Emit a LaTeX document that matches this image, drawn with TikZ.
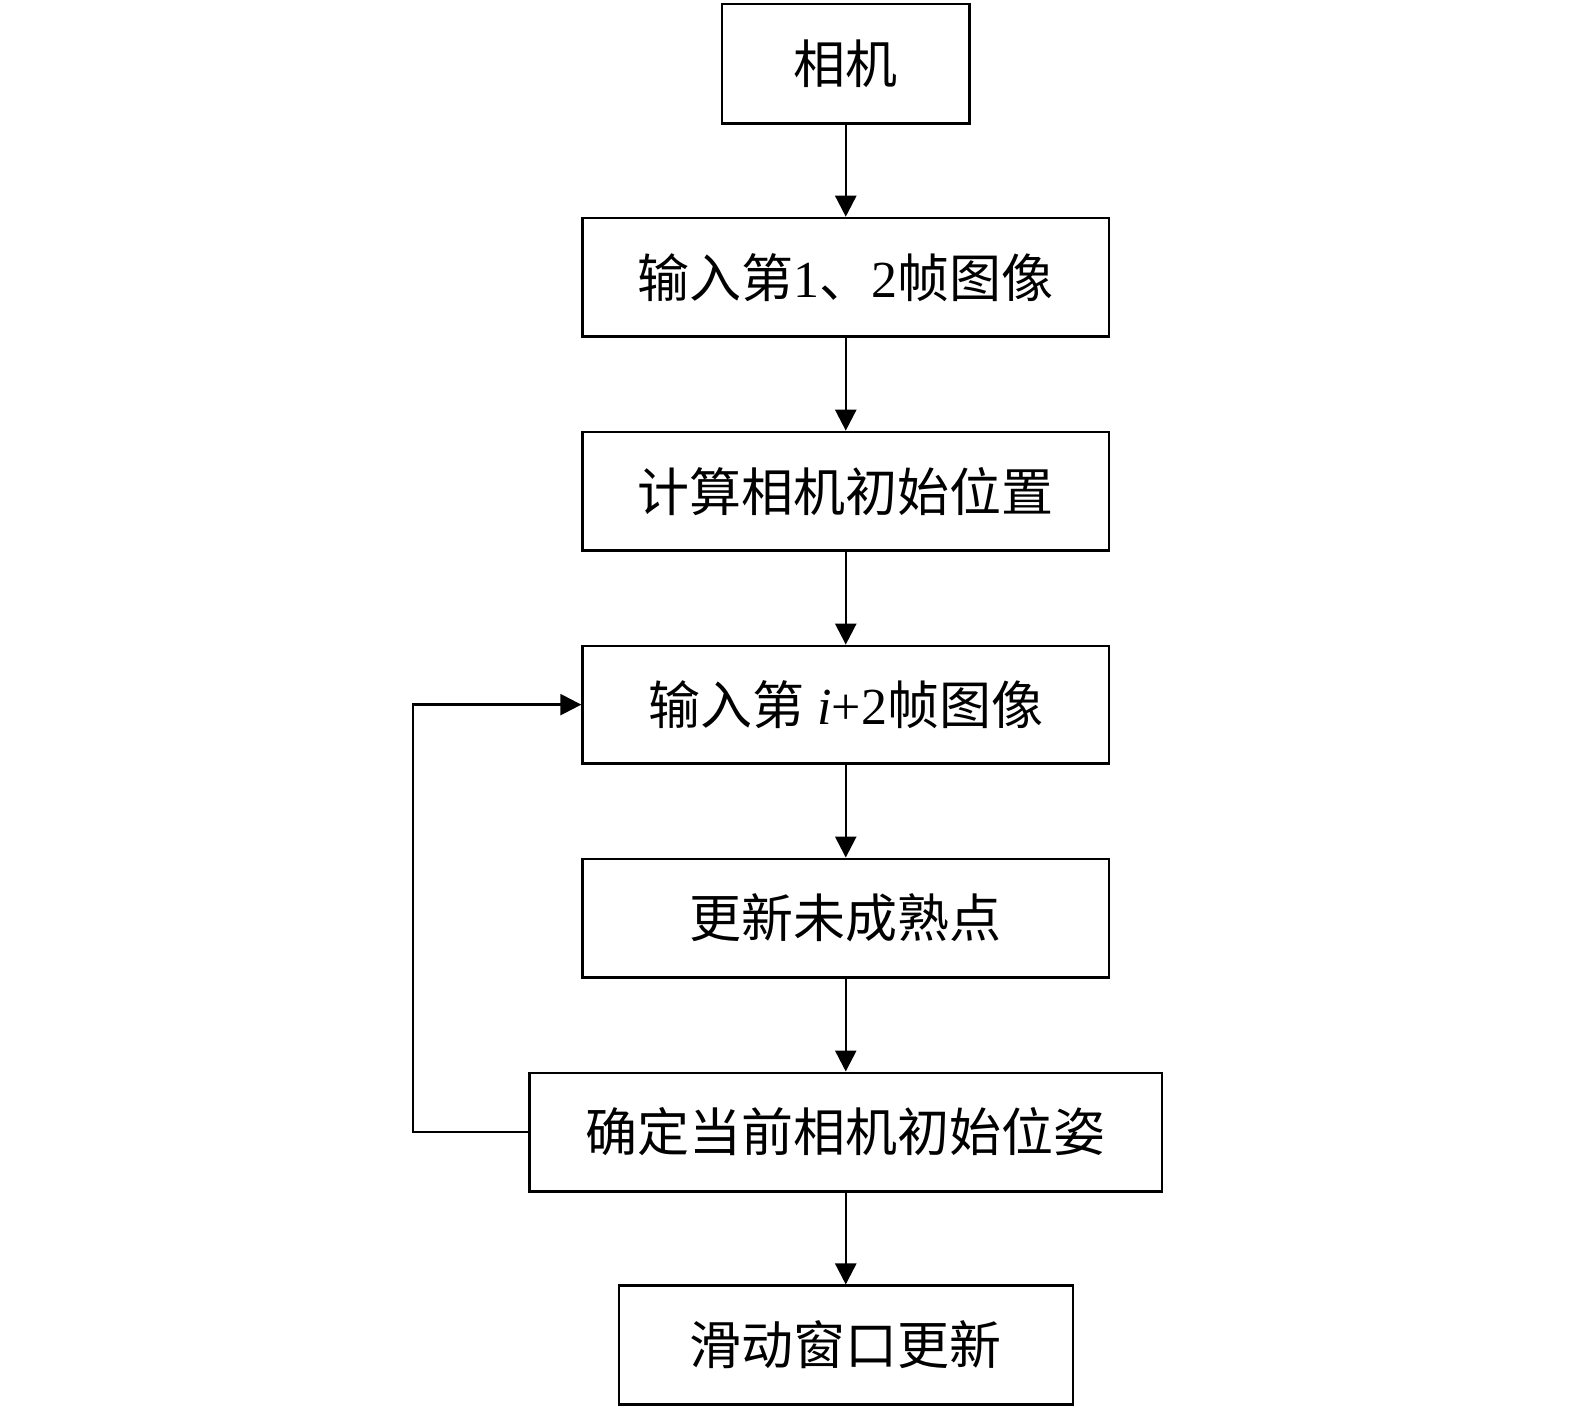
\documentclass[tikz,border=0pt]{standalone}
\usepackage{fontspec}
\setmainfont{Liberation Serif}
\newfontfamily\cjk{Noto Sans CJK SC}
\usetikzlibrary{arrows.meta}
\begin{document}
\begin{tikzpicture}[x=0.50223pt,y=-0.50223pt,
  box/.style={draw,line width=1.25pt,inner sep=0pt,font=\fontsize{26}{31}\selectfont},
  arr/.style={line width=1.25pt,-{Triangle[length=10.5pt,width=10.5pt]}}]
\useasboundingbox (0,0) rectangle (1568,1403);
\node[box,minimum width=246*0.50223pt,minimum height=119*0.50223pt] (cam) at (842,63.5) {\cjk 相机};
\node[box,minimum width=524*0.50223pt,minimum height=118*0.50223pt] (f12) at (842,276) {{\cjk 输入第}1{\cjk 、}2{\cjk 帧图像}};
\node[box,minimum width=524*0.50223pt,minimum height=118*0.50223pt] (calc) at (842,489) {\cjk 计算相机初始位置};
\node[box,minimum width=524*0.50223pt,minimum height=117*0.50223pt] (fi) at (842,701.5) {{\cjk 输入第} \textit{i}+2{\cjk 帧图像}};
\node[box,minimum width=524*0.50223pt,minimum height=118*0.50223pt] (upd) at (842,914) {\cjk 更新未成熟点};
\node[box,minimum width=630*0.50223pt,minimum height=118*0.50223pt] (det) at (842,1127) {\cjk 确定当前相机初始位姿};
\node[box,minimum width=452*0.50223pt,minimum height=118*0.50223pt] (slide) at (842,1339) {\cjk 滑动窗口更新};
\draw[arr] (cam) -- (f12);
\draw[arr] (f12) -- (calc);
\draw[arr] (calc) -- (fi);
\draw[arr] (fi) -- (upd);
\draw[arr] (upd) -- (det);
\draw[arr] (det) -- (slide);
\coordinate (lb) at (411,1127);
\coordinate (lt) at (411,701.5);
\draw[arr] (det.west) -- (lb) -- (lt) -- (fi.west);
\end{tikzpicture}
\end{document}
